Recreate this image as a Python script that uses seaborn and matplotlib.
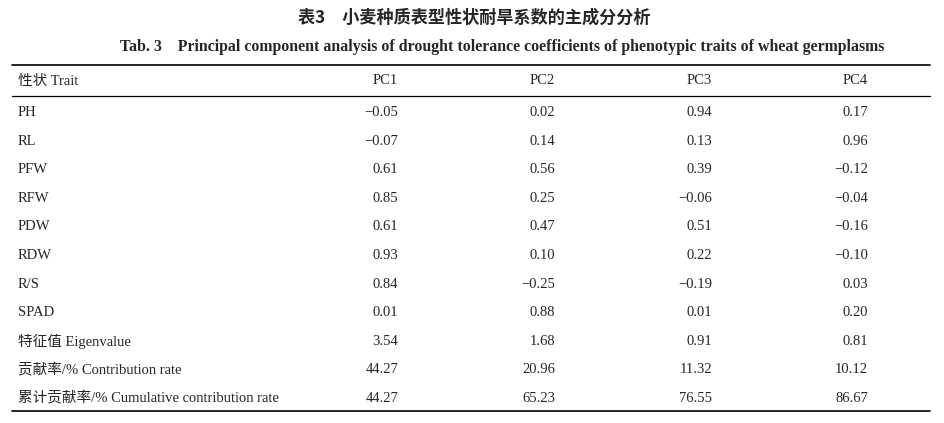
"""Table: PCA of drought tolerance coefficients of wheat germplasm traits."""

import matplotlib
matplotlib.use('Agg')
import matplotlib.pyplot as plt
import seaborn as sns

title_cn = '表3　小麦种质表型性状耐旱系数的主成分分析'
title_en = 'Tab. 3　Principal component analysis of drought tolerance coefficients of phenotypic traits of wheat germplasms'

header_trait = '性状 Trait'
components = ['PC1', 'PC2', 'PC3', 'PC4']
traits = ['PH', 'RL', 'PFW', 'RFW', 'PDW', 'RDW', 'R/S', 'SPAD',
          '特征值 Eigenvalue', '贡献率/% Contribution rate',
          '累计贡献率/% Cumulative contribution rate']

pc1 = [-0.05, -0.07, 0.61, 0.85, 0.61, 0.93, 0.84, 0.01, 3.54, 44.27, 44.27]
pc2 = [0.02, 0.14, 0.56, 0.25, 0.47, 0.10, -0.25, 0.88, 1.68, 20.96, 65.23]
pc3 = [0.94, 0.13, 0.39, -0.06, 0.51, 0.22, -0.19, 0.01, 0.91, 11.32, 76.55]
pc4 = [0.17, 0.96, -0.12, -0.04, -0.16, -0.10, 0.03, 0.20, 0.81, 10.12, 86.67]

sns.set_theme(style='white')
fonts = ['Liberation Serif', 'Noto Sans CJK SC', 'DejaVu Sans']
plt.rcParams['font.family'] = fonts

fig = plt.figure(figsize=(9.44, 4.23), dpi=100)
ax = fig.add_axes([0, 0, 1, 1])
ax.set_xlim(0, 944)
ax.set_ylim(423, 0)
ax.axis('off')

# layout in pixel units
col_right = [398, 555, 712, 868]
left_x = 18
line_x0, line_x1 = 12, 930
header_y = 81
row_y0, row_h = 112.5, 28.6

ax.text(474, 18, title_cn, ha='center', va='center', fontsize=12.3,
        fontweight='bold', family=['Noto Sans CJK SC'])
ax.text(502, 47, title_en, ha='center', va='center', fontsize=11.4,
        fontweight='bold')

for y, lw in [(65, 1.2), (96, 0.9), (411, 1.2)]:
    ax.plot([line_x0, line_x1], [y, y], color='black', lw=lw)

ax.text(left_x, header_y, header_trait, ha='left', va='center', fontsize=10.5)
for x, name in zip(col_right, components):
    ax.text(x, header_y, name, ha='right', va='center', fontsize=10.5)

cols = [pc1, pc2, pc3, pc4]
for i, trait in enumerate(traits):
    y = row_y0 + i * row_h
    ax.text(left_x, y, trait, ha='left', va='center', fontsize=10.5)
    for x, vals in zip(col_right, cols):
        s = f'{vals[i]:.2f}'.replace('-', '\u2212')
        ax.text(x, y, s, ha='right', va='center', fontsize=10.5)

fig.savefig('out.png', dpi=100, facecolor='white')
